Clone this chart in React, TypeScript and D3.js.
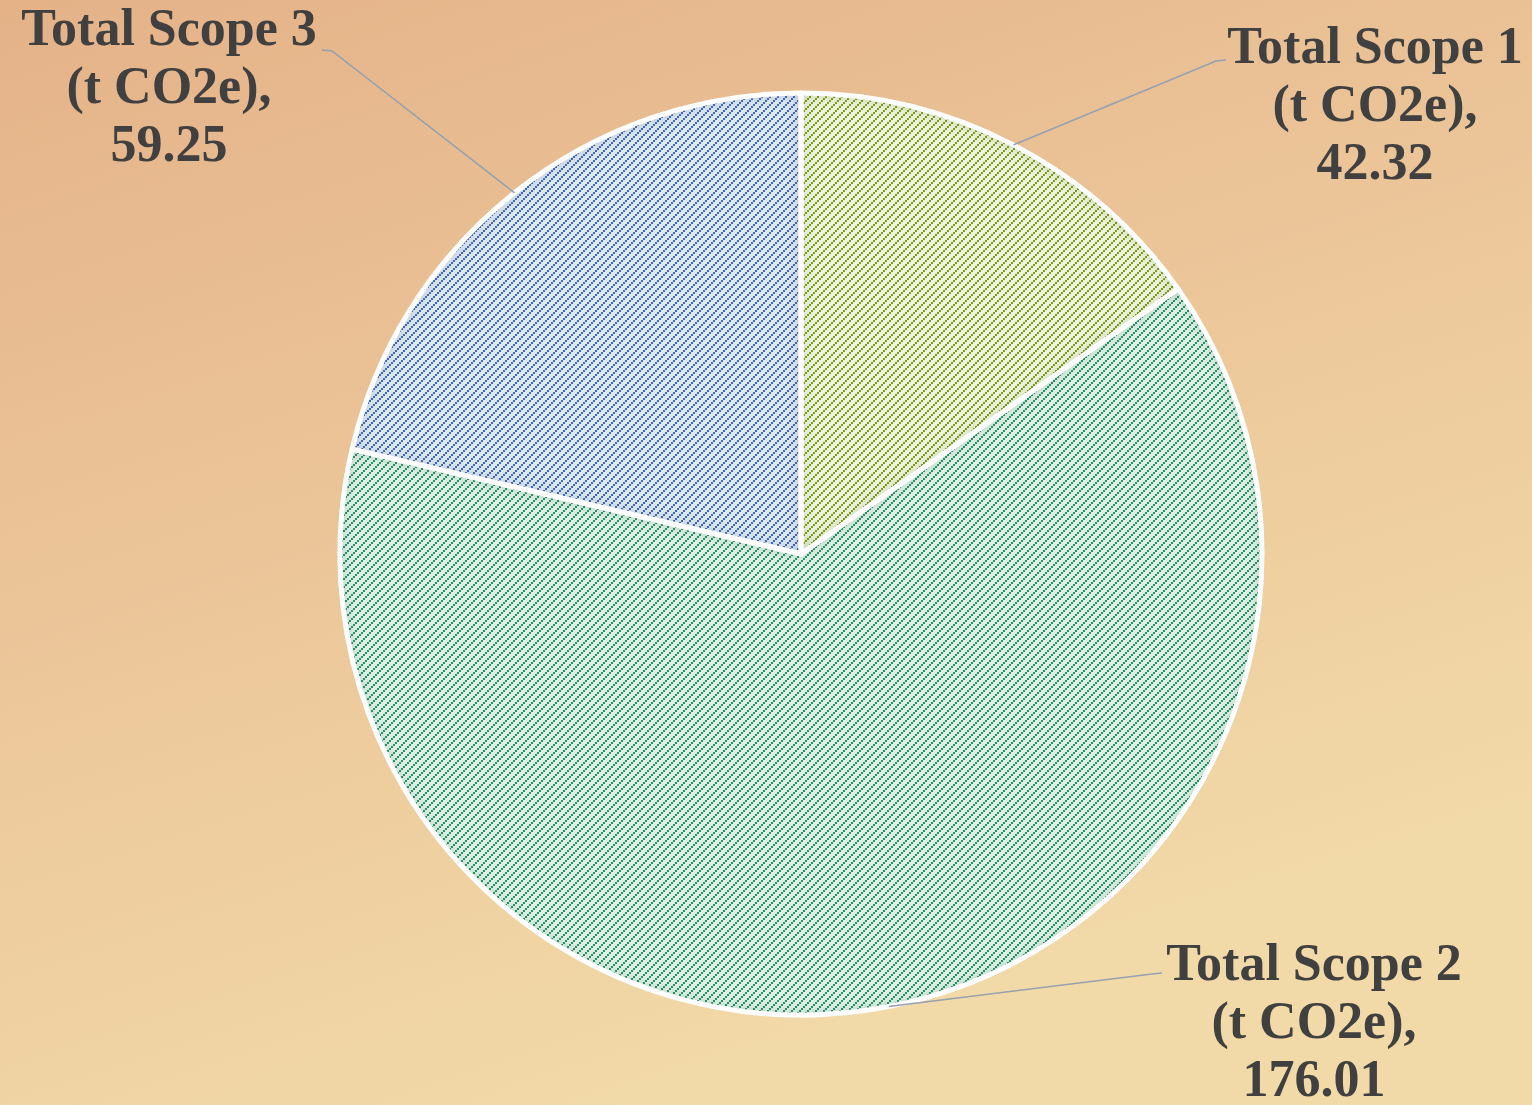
import React from "react";
import * as d3 from "d3";

const categories = ["Total Scope 1", "Total Scope 2", "Total Scope 3"];
const units = ["(t CO2e),", "(t CO2e),", "(t CO2e),"];
const values = [42.32, 176.01, 59.25];
const labelText = ["42.32", "176.01", "59.25"];

const W = 1532;
const H = 1105;
const cx = 801;
const cy = 554;
const R = 461;

const fills = [
  { bg: "#edf4d8", fg: "#7f9c2a", id: "p1", sh: "#5e7a10" },
  { bg: "#dcf2e5", fg: "#32916a", id: "p2", sh: "#1d6e48" },
  { bg: "#dee7f4", fg: "#416fac", id: "p3", sh: "#2a4f86" },
];

// label anchor (center x, first baseline) and leader line start
const labelPos = [
  { x: 1375, y: 63, lx: 1226, ly: 60, dx: -10 },
  { x: 1314, y: 980, lx: 1162, ly: 973, dx: -10 },
  { x: 169, y: 45, lx: 322, ly: 50, dx: 10 },
];

const P = 8;
const S = 2;

export default function App() {
  const pie = d3.pie<number>().sort(null).value((d) => d)(values);
  const arc = d3.arc<d3.PieArcDatum<number>>().innerRadius(0).outerRadius(R);
  const lineH = 58;
  const font = "'Liberation Serif', 'DejaVu Serif', serif";
  const steps = d3.range(P / S);
  return (
    <svg
      width={W}
      height={H}
      style={{ position: "absolute", left: 0, top: 0, display: "block" }}
    >
      <defs>
        <linearGradient id="bg" x1="0" y1="0" x2="0.45" y2="1">
          <stop offset="0" stopColor="#e5b288" />
          <stop offset="0.45" stopColor="#ebc498" />
          <stop offset="1" stopColor="#f2daa8" />
        </linearGradient>
        {fills.map((f) => (
          <pattern
            key={f.id}
            id={f.id}
            patternUnits="userSpaceOnUse"
            width={P}
            height={P}
          >
            <rect width={P} height={P} fill={f.bg} shapeRendering="crispEdges" />
            {steps.map((k) => (
              <rect
                key={k}
                x={k * S}
                y={P - (k + 1) * S}
                width={S}
                height={S}
                fill={f.fg}
                shapeRendering="crispEdges"
              />
            ))}
          </pattern>
        ))}
        {fills.map((f) => (
          <filter
            key={"i" + f.id}
            id={"inner" + f.id}
            x="-5%"
            y="-5%"
            width="110%"
            height="110%"
          >
            <feFlood floodColor={f.sh} floodOpacity="0.45" result="f" />
            <feComposite in="f" in2="SourceAlpha" operator="out" result="o" />
            <feGaussianBlur in="o" stdDeviation="8" result="b" />
            <feComposite in="b" in2="SourceAlpha" operator="in" result="s" />
            <feMerge>
              <feMergeNode in="SourceGraphic" />
              <feMergeNode in="s" />
            </feMerge>
          </filter>
        ))}
      </defs>
      <rect width={W} height={H} fill="url(#bg)" />
      <g transform={`translate(${cx},${cy})`}>
        {pie.map((d, i) => (
          <path
            key={"f" + i}
            d={arc(d) || ""}
            fill={`url(#${fills[i].id})`}
            filter={`url(#inner${fills[i].id})`}
          />
        ))}
        {pie.map((d, i) => (
          <path
            key={"s" + i}
            d={arc(d) || ""}
            fill="none"
            stroke="#ffffff"
            strokeWidth={5}
            strokeLinejoin="round"
          />
        ))}
      </g>
      {pie.map((d, i) => {
        const mid = (d.startAngle + d.endAngle) / 2;
        const ex = cx + Math.sin(mid) * R;
        const ey = cy - Math.cos(mid) * R;
        const p = labelPos[i];
        return (
          <polyline
            key={"l" + i}
            points={`${p.lx},${p.ly} ${p.lx + p.dx},${p.ly + 1} ${ex},${ey}`}
            fill="none"
            stroke="#95a0b0"
            strokeWidth={1.5}
          />
        );
      })}
      {categories.map((c, i) => {
        const p = labelPos[i];
        const lines = [c, units[i], labelText[i]];
        return (
          <text
            key={"t" + i}
            textAnchor="middle"
            fontFamily={font}
            fontWeight="bold"
            fontSize={52}
            fill="#404040"
          >
            {lines.map((s, j) => (
              <tspan key={j} x={p.x} y={p.y + j * lineH}>
                {s}
              </tspan>
            ))}
          </text>
        );
      })}
    </svg>
  );
}
